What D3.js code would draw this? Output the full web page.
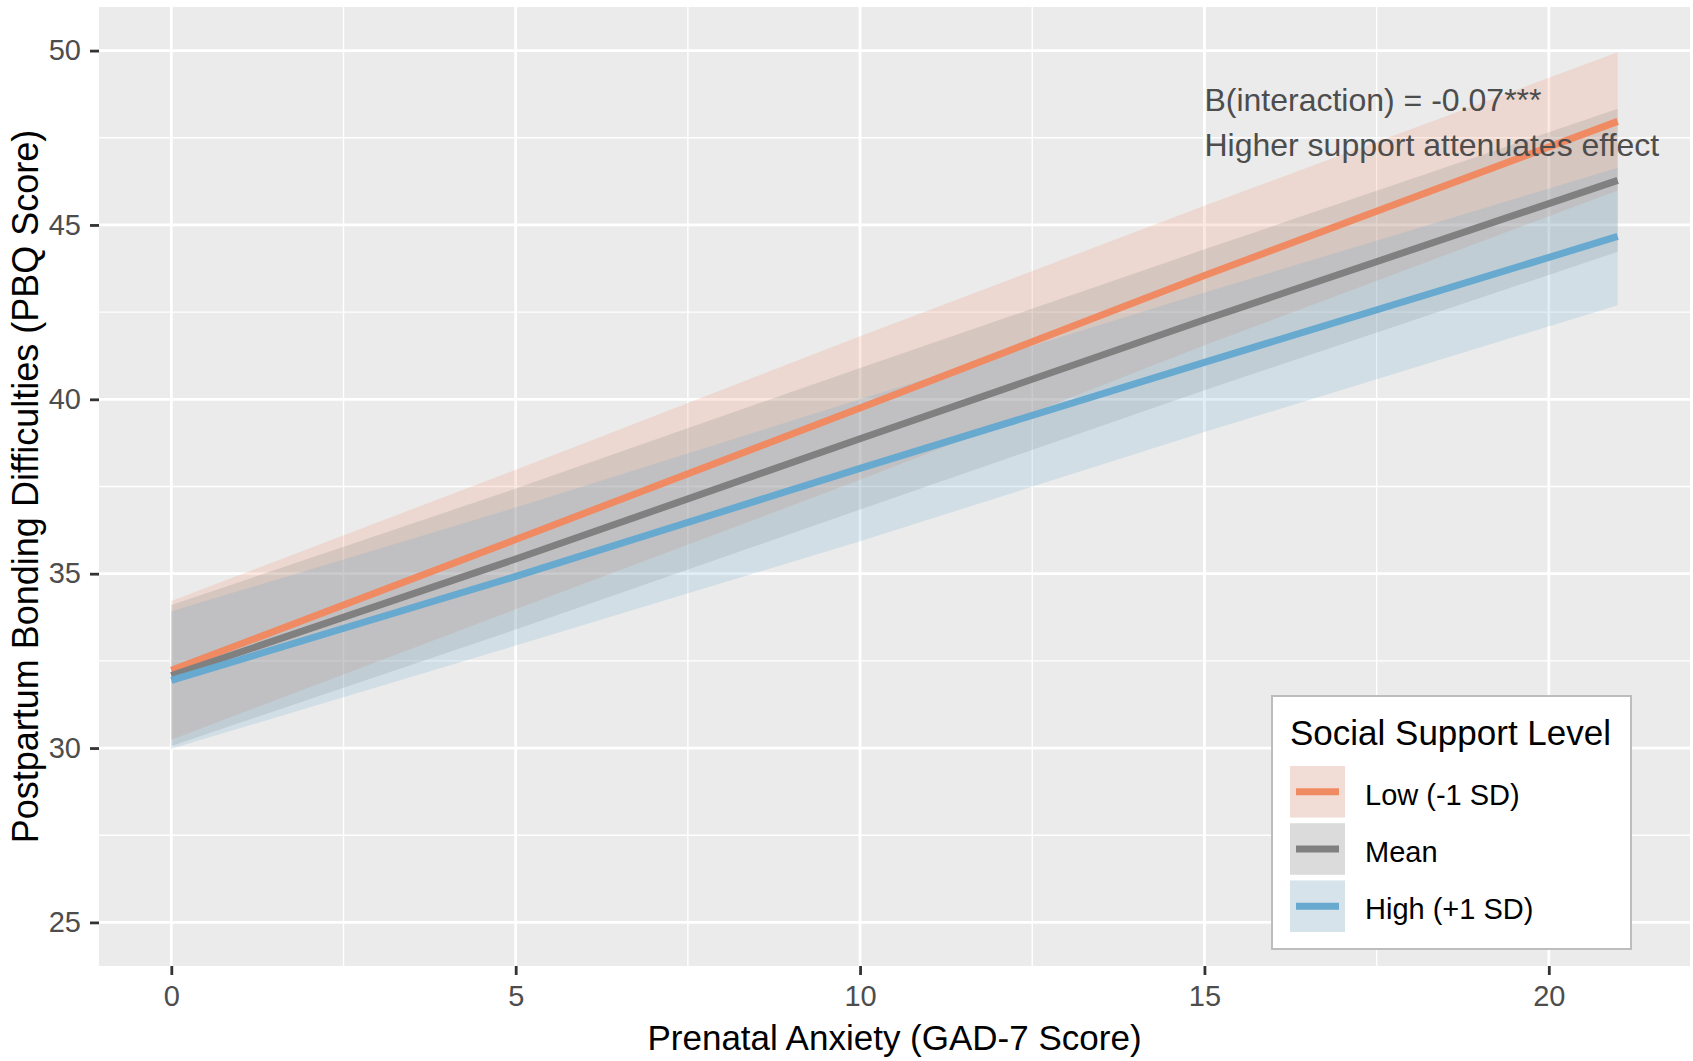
<!DOCTYPE html>
<html>
<head>
<meta charset="utf-8">
<script src="https://cdn.jsdelivr.net/npm/d3@7"></script>
<style>
  html, body { margin: 0; padding: 0; background: #ffffff; }
  text { font-family: "Liberation Sans", Arial, Helvetica, sans-serif; }
</style>
</head>
<body>
<svg id="chart" width="1693" height="1061"></svg>
<script>
// ---- data ----
const anxiety = [0, 5, 10, 15, 21];                      // GAD-7 score (x)
const groups = ["Low (-1 SD)", "Mean", "High (+1 SD)"];
const lowFit   = [32.23, 35.98, 39.75, 43.55, 47.97];
const lowUpper = [34.22, 37.98, 41.81, 45.55, 49.95];
const lowLower = [30.24, 33.98, 37.69, 41.55, 45.99];
const meanFit   = [32.08, 35.42, 38.87, 42.28, 46.28];
const meanUpper = [34.10, 37.44, 40.90, 44.30, 48.33];
const meanLower = [30.06, 33.40, 36.84, 40.26, 44.23];
const highFit   = [31.94, 34.92, 38.02, 41.06, 44.67];
const highUpper = [33.92, 36.90, 40.00, 43.06, 46.64];
const highLower = [29.98, 32.94, 35.93, 39.06, 42.70];
const xTicks = [0, 5, 10, 15, 20];
const yTicks = [25, 30, 35, 40, 45, 50];
const xMinor = [2.5, 7.5, 12.5, 17.5];
const yMinor = [27.5, 32.5, 37.5, 42.5, 47.5];
const annotationLines = ["B(interaction) = -0.07***", "Higher support attenuates effect"];
const xTitle = "Prenatal Anxiety (GAD-7 Score)";
const yTitle = "Postpartum Bonding Difficulties (PBQ Score)";
const legendTitle = "Social Support Level";
const colors = ["#EF8A62", "#808080", "#67A9CF"];

const series = [
  {name: groups[0], fit: lowFit,  upper: lowUpper,  lower: lowLower,  color: colors[0]},
  {name: groups[1], fit: meanFit, upper: meanUpper, lower: meanLower, color: colors[1]},
  {name: groups[2], fit: highFit, upper: highUpper, lower: highLower, color: colors[2]}
];

// ---- layout ----
const svg = d3.select("#chart");
const panel = {left: 99, top: 7, right: 1690, bottom: 966};
const x = d3.scaleLinear().domain([-1.05, 22.05]).range([panel.left, panel.right]);
const y = d3.scaleLinear().domain([23.75, 51.25]).range([panel.bottom, panel.top]);

svg.append("rect").attr("width", 1693).attr("height", 1061).attr("fill", "#ffffff");
svg.append("rect")
  .attr("x", panel.left).attr("y", panel.top)
  .attr("width", panel.right - panel.left).attr("height", panel.bottom - panel.top)
  .attr("fill", "#EBEBEB");

const grid = svg.append("g");
grid.selectAll(".xminor").data(xMinor).join("line")
  .attr("x1", d => x(d)).attr("x2", d => x(d))
  .attr("y1", panel.top).attr("y2", panel.bottom)
  .attr("stroke", "#ffffff").attr("stroke-width", 1.4);
grid.selectAll(".yminor").data(yMinor).join("line")
  .attr("y1", d => y(d)).attr("y2", d => y(d))
  .attr("x1", panel.left).attr("x2", panel.right)
  .attr("stroke", "#ffffff").attr("stroke-width", 1.4);
grid.selectAll(".xmajor").data(xTicks).join("line")
  .attr("x1", d => x(d)).attr("x2", d => x(d))
  .attr("y1", panel.top).attr("y2", panel.bottom)
  .attr("stroke", "#ffffff").attr("stroke-width", 2.8);
grid.selectAll(".ymajor").data(yTicks).join("line")
  .attr("y1", d => y(d)).attr("y2", d => y(d))
  .attr("x1", panel.left).attr("x2", panel.right)
  .attr("stroke", "#ffffff").attr("stroke-width", 2.8);

// ---- ribbons ----
const area = d3.area()
  .x((d, i) => x(anxiety[i]))
  .y0(d => y(d[0]))
  .y1(d => y(d[1]));
series.forEach(s => {
  const pts = anxiety.map((_, i) => [s.lower[i], s.upper[i]]);
  svg.append("path").attr("d", area(pts))
    .attr("fill", s.color).attr("fill-opacity", 0.2);
});

// ---- lines ----
const line = d3.line().x((d, i) => x(anxiety[i])).y(d => y(d));
series.forEach(s => {
  svg.append("path").attr("d", line(s.fit))
    .attr("fill", "none").attr("stroke", s.color).attr("stroke-width", 7);
});

// ---- annotation ----
annotationLines.forEach((t, i) => {
  svg.append("text")
    .attr("x", x(15)).attr("y", 111 + i * 45)
    .attr("font-size", 32).attr("fill", "#4D4D4D")
    .text(t);
});

// ---- axes ----
const xAxis = d3.axisBottom(x).tickValues(xTicks).tickSize(9).tickPadding(10).tickFormat(d3.format("d"));
const gx = svg.append("g").attr("transform", `translate(0,${panel.bottom})`).call(xAxis);
gx.select(".domain").remove();
gx.selectAll("line").attr("stroke", "#333333").attr("stroke-width", 2.8);
gx.selectAll("text").attr("font-size", 29).attr("fill", "#4D4D4D")
  .attr("font-family", "'Liberation Sans', Arial, sans-serif");

const yAxis = d3.axisLeft(y).tickValues(yTicks).tickSize(9).tickPadding(9).tickFormat(d3.format("d"));
const gy = svg.append("g").attr("transform", `translate(${panel.left},0)`).call(yAxis);
gy.select(".domain").remove();
gy.selectAll("line").attr("stroke", "#333333").attr("stroke-width", 2.8);
gy.selectAll("text").attr("font-size", 29).attr("fill", "#4D4D4D")
  .attr("font-family", "'Liberation Sans', Arial, sans-serif");

svg.append("text")
  .attr("x", (panel.left + panel.right) / 2).attr("y", 1050)
  .attr("text-anchor", "middle").attr("font-size", 35).attr("fill", "#000000")
  .text(xTitle);
svg.append("text")
  .attr("transform", `translate(38,${(panel.top + panel.bottom) / 2}) rotate(-90)`)
  .attr("text-anchor", "middle").attr("font-size", 36).attr("fill", "#000000")
  .text(yTitle);

// ---- legend ----
const lg = svg.append("g");
lg.append("rect").attr("x", 1272).attr("y", 696).attr("width", 359).attr("height", 253)
  .attr("fill", "#ffffff").attr("stroke", "#BDBDBD").attr("stroke-width", 2);
lg.append("text").attr("x", 1290).attr("y", 745).attr("font-size", 35).attr("fill", "#000000")
  .text(legendTitle);
const keyY = d3.scaleBand().domain(groups).range([766, 932]).paddingInner(0.1);
series.forEach(s => {
  const ky = keyY(s.name), kh = keyY.bandwidth();
  lg.append("rect").attr("x", 1290).attr("y", ky).attr("width", 55).attr("height", kh)
    .attr("fill", "#F2F2F2");
  lg.append("rect").attr("x", 1290).attr("y", ky).attr("width", 55).attr("height", kh)
    .attr("fill", s.color).attr("fill-opacity", 0.2);
  lg.append("line").attr("x1", 1296).attr("x2", 1339).attr("y1", ky + kh / 2).attr("y2", ky + kh / 2)
    .attr("stroke", s.color).attr("stroke-width", 7);
  lg.append("text").attr("x", 1365).attr("y", ky + kh / 2 + 13).attr("font-size", 29).attr("fill", "#000000")
    .text(s.name);
});
</script>
</body>
</html>
